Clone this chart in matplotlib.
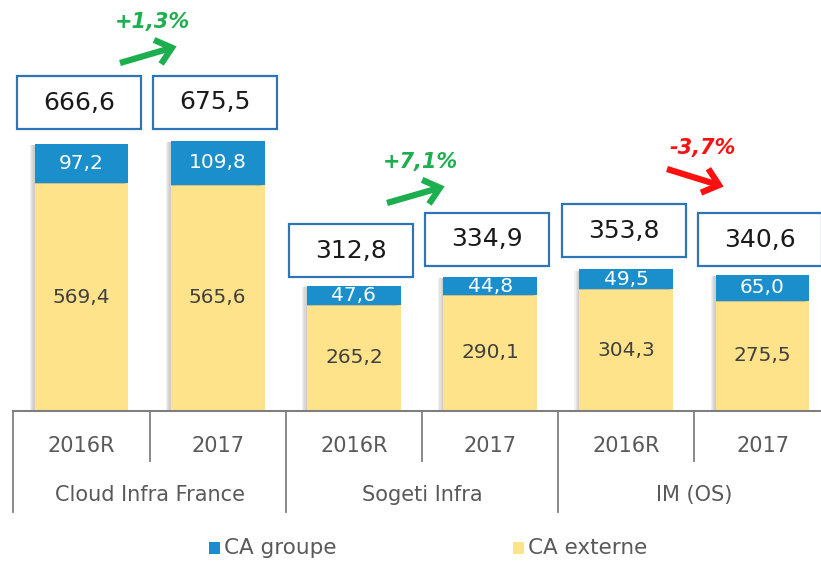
import matplotlib
matplotlib.use("Agg")
import matplotlib.pyplot as plt
import matplotlib.patheffects as pe
from matplotlib.patches import Rectangle

plt.rcParams['font.family'] = ['DejaVu Sans']

# ---- data ----
groups = ["Cloud Infra France", "Sogeti Infra", "IM (OS)"]
years = ["2016R", "2017", "2016R", "2017", "2016R", "2017"]
ca_externe = [569.4, 565.6, 265.2, 290.1, 304.3, 275.5]
ca_groupe = [97.2, 109.8, 47.6, 44.8, 49.5, 65.0]
totals = [666.6, 675.5, 312.8, 334.9, 353.8, 340.6]
legend_labels = ["CA groupe", "CA externe"]

# ---- style ----
BLUE = "#1A8FCB"
YELLOW = "#FFE38A"
BOX_EDGE = "#2E75B6"
GREEN = "#1DAF4F"
RED = "#FF1010"
GREY_TXT = "#595959"

W, H = 821, 561
fig = plt.figure(figsize=(W / 100, H / 100), dpi=100)
ax = fig.add_axes([0, 0, 1, 1])
ax.set_axis_off()

# pixel <-> data mapping
X0, DX = 81.5, 136.2      # pixel centre of category 0, pixel per category
Y0, SY = 411.0, 0.4       # baseline pixel, pixels per unit
ax.set_xlim(-X0 / DX, (W - X0) / DX)
ax.set_ylim((Y0 - H) / SY, Y0 / SY)

def px(x):
    return (x - X0) / DX

def py(y):
    return (Y0 - y) / SY

n = len(years)
xs = list(range(n))
shadow = [pe.SimplePatchShadow(offset=(-o, -0.8), shadow_rgbFace="#8a8a8a", alpha=0.12)
          for o in (3.5, 2.6, 1.8, 1.0)] + [pe.Normal()]

b1 = ax.bar(xs, ca_externe, width=0.69, color=YELLOW, zorder=3)
b2 = ax.bar(xs, ca_groupe, bottom=ca_externe, width=0.69, color=BLUE, zorder=3)
for r in list(b1) + list(b2):
    r.set_path_effects(shadow)

for i in xs:
    ax.text(i, ca_externe[i] / 2, f"{ca_externe[i]:.1f}".replace(".", ","),
            ha="center", va="center", fontsize=14.5, color="#404040", zorder=5)
    ax.text(i, ca_externe[i] + ca_groupe[i] / 2, f"{ca_groupe[i]:.1f}".replace(".", ","),
            ha="center", va="center", fontsize=14.5, color="white", zorder=5)

# total boxes
box_gap = [38, 30, 22, 28, 31, 22]
box_h = 53 / SY
box_w = 124 / DX
for i in xs:
    bottom = ca_externe[i] + ca_groupe[i] + box_gap[i]
    cx = i - 0.02
    ax.add_patch(Rectangle((cx - box_w / 2, bottom), box_w, box_h, facecolor="white",
                           edgecolor=BOX_EDGE, lw=1.6, zorder=4))
    ax.text(cx, bottom + box_h / 2, f"{totals[i]:.1f}".replace(".", ","), ha="center",
            va="center", fontsize=18, color="#1a1a1a", zorder=5)

# growth arrows
arrow_px = [((120, 63), (178, 46), (152, 22)),
            ((387, 203), (446, 186), (420, 162)),
            ((667, 169), (725, 187), (703, 148))]
for g in range(3):
    a, b = 2 * g, 2 * g + 1
    pct = (totals[b] / totals[a] - 1) * 100
    col = GREEN if pct >= 0 else RED
    lab = (f"+{pct:.1f}%" if pct >= 0 else f"{pct:.1f}%").replace(".", ",")
    (tx, ty), (hx, hy), (lx, ly) = arrow_px[g]
    ax.annotate("", xy=(px(hx), py(hy)), xytext=(px(tx), py(ty)),
                arrowprops=dict(arrowstyle="->,head_length=0.6,head_width=0.5",
                                mutation_scale=18, color=col, lw=4.5,
                                shrinkA=0, shrinkB=1,
                                joinstyle="miter", capstyle="butt"), zorder=6)
    ax.text(px(lx), py(ly), lab, ha="center", va="center", fontsize=15,
            color=col, style="italic", fontweight="bold", zorder=6)

# category axis (multi-level)
LINE = "#7f7f7f"
ax.plot([-0.5, n - 0.5], [0, 0], color=LINE, lw=1.5, zorder=6, clip_on=False)
for k in range(n + 1):
    xline = k - 0.5
    bot = py(512) if k % 2 == 0 else py(461)
    ax.plot([xline, xline], [0, bot], color=LINE, lw=1.3, zorder=6)
for i in xs:
    ax.text(i, py(446), years[i], ha="center", va="center", fontsize=15, color=GREY_TXT)
for g, name in enumerate(groups):
    ax.text(2 * g + 0.5, py(495), name, ha="center", va="center", fontsize=15, color=GREY_TXT)

# legend
leg_items = [(BLUE, legend_labels[0], 209), (YELLOW, legend_labels[1], 513)]
for col, lab, xp in leg_items:
    ax.add_patch(Rectangle((px(xp), py(554)), 11 / DX, 12 / SY, facecolor=col, edgecolor="none"))
    ax.text(px(xp + 15), py(548), lab, ha="left", va="center", fontsize=15.5, color=GREY_TXT)

fig.savefig("out.png", dpi=100)
